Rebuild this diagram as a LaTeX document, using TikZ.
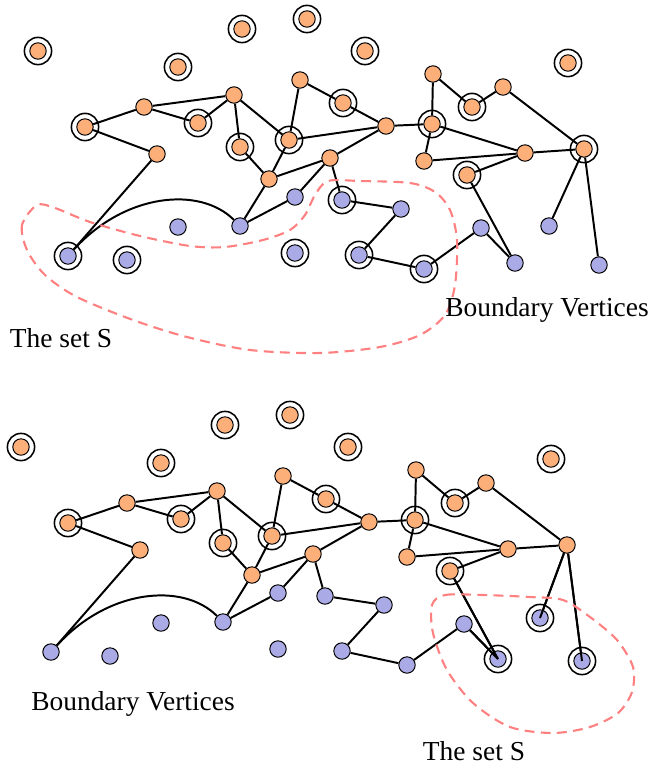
\documentclass[tikz,border=0pt]{standalone}
\usepackage{fontspec}
\setmainfont{Liberation Serif}
\definecolor{orangev}{RGB}{253,175,122}
\definecolor{bluev}{RGB}{170,170,230}
\definecolor{setred}{RGB}{255,128,128}

% The network: vertices, marker rings (#1) and edges.
% #2 gives the position of vertex b13.
\newcommand\drawnet[2]{%
  \foreach \n/\x/\y in {A1/38/51, A2/178/67, A3/242/29, A4/307/19, A5/365/51, A6/568/63,
      o1/85/127, o2/144/107, o3/198/123, o4/234/95, o5/157/154, o6/240/147,
      o7/300/80, o8/289/140, o9/343/103, o10/269/179, o11/330/158, o12/386/126,
      o13/433/74, o14/432/124, o15/472/107, o16/503/87, o17/424/161, o18/525/153,
      o19/584/149, o20/467/175}
    \node[inv] (\n) at (\x,\y) {};
  \foreach \n/\x/\y in {b1/68/256, b2/127/260, b3/178/227, b4/240/226, b5/295/197,
      b6/295/253, b7/342/200, b8/401/209, b9/359/255, b10/424/269, b11/481/228,
      b12/515/263, b14/599/265}
    \node[outv] (\n) at (\x,\y) {};
  \node[outv] (b13) at (#2) {};
  \foreach \n in {#1}
    \node[ring] (r\n) at (\n) {};
  \foreach \a/\b in {o1/o2, o1/o5, o2/o4, o2/o3, o3/o4, o4/o6, o4/o8, o6/o10,
      o7/o8, o7/o9, o8/o12, o8/o10, o10/o11, o9/o12, o11/o12, o11/b5, o11/b7,
      o12/o14, o13/o14, o13/o15, o15/o16, o16/o19, o14/o18, o14/o17, o17/o18,
      o18/o19, o18/o20, o20/b12, o19/b13, o19/b14, b11/b12, b10/b11, b9/b10,
      b8/b9, b7/b8, b4/b5, b4/o10, b1/o5}
    \draw[link] (\a) -- (\b);
  \draw[link] (b1) .. controls (125,193) and (200,186) .. (b4);
}

\begin{document}
\begin{tikzpicture}[x=0.025cm,y=-0.025cm,
  vtx/.style={circle,draw=black,line width=0.7pt,inner sep=0pt,minimum size=0.41cm},
  inv/.style={vtx,fill=orangev},
  outv/.style={vtx,fill=bluev},
  ring/.style={circle,draw=black,line width=1.1pt,inner sep=0pt,minimum size=0.68cm},
  link/.style={line width=1.4pt},
  setline/.style={draw=setred,line width=1.5pt,dash pattern=on 7pt off 4.5pt},
  caption/.style={font=\fontsize{19.5}{22}\selectfont,anchor=base,inner sep=0pt}]
\useasboundingbox (0,0) rectangle (651,769);

% upper network
\begin{scope}[name prefix=t-]
  \drawnet{A1,A2,A3,A4,A5,A6,o1,o3,o6,o8,o9,o14,o15,o19,o20,b1,b2,b6,b7,b9,b10}{549,226}
\end{scope}

% lower network
\begin{scope}[name prefix=u-,shift={(-17,396)}]
  \drawnet{A1,A2,A3,A4,A5,A6,o1,o3,o6,o8,o9,o14,o15,o20,b12,b13,b14}{557,222}
  \draw[link] (o20) -- (b12.center);
  \draw[link] (b11) -- (b12.center);
  \draw[link] (o19) -- (b13.center);
  \draw[link] (o19) -- (b14.center);
\end{scope}

% the set S
\draw[setline] plot[smooth cycle,tension=0.5] coordinates {
  (37,205) (22,225) (27,250) (45,275) (77,297) (133,320) (187,337) (250,350)
  (320,353) (380,347) (420,335) (445,315) (455,285) (457,240) (450,210)
  (435,192) (410,183) (360,181) (328,181) (315,195) (305,215) (290,230)
  (263,240) (225,247) (190,246) (140,236) (90,222) (55,208)};
\draw[setline] plot[smooth cycle,tension=0.5] coordinates {
  (432,605) (445,595) (483,595) (530,597) (563,600) (590,617) (617,640)
  (633,667) (632,692) (618,713) (590,727) (553,733) (510,727) (473,703)
  (447,670) (433,633)};

\node[caption] (bv1) at (547,316) {Boundary Vertices};
\node[caption] (s1) at (61,347) {The set S};
\node[caption] (bv2) at (133,710) {Boundary Vertices};
\node[caption] (s2) at (474,760) {The set S};
\end{tikzpicture}
\end{document}
